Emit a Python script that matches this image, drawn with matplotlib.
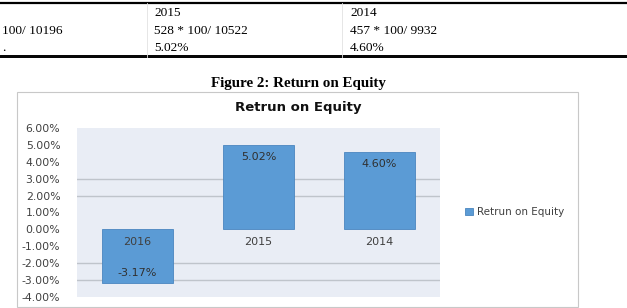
import matplotlib.pyplot as plt
from matplotlib.patches import Rectangle

# chart data
years = ['2016', '2015', '2014']
roe = [-3.17, 5.02, 4.60]
yticks = [6, 5, 4, 3, 2, 1, 0, -1, -2, -3, -4]
grid_at = [3, 2, -2, -3]   # only these gridlines are visible in the source

# table fragment above the figure
tab_rows = [['100/ 10196', '528 * 100/ 10522', '457 * 100/ 9932'],
            ['.', '5.02%', '4.60%']]
tab_head = ['', '2015', '2014']

W, H = 627, 308
fig = plt.figure(figsize=(W / 100, H / 100), dpi=100)
fig.patch.set_facecolor('white')


def fx(px):
    return px / W


def fy(py):
    return 1 - py / H


serif = 'Liberation Serif'

# table lines
fig.add_artist(plt.Line2D([0, 1], [fy(3), fy(3)], color='black', lw=1.6))
fig.add_artist(plt.Line2D([0, 1], [fy(54.5), fy(54.5)], color='black', lw=0.7))
fig.add_artist(plt.Line2D([0, 1], [fy(57), fy(57)], color='black', lw=1.4))
for vx in [147, 342]:
    fig.add_artist(plt.Line2D([fx(vx), fx(vx)], [fy(3), fy(57)], color='#e2e2e2', lw=0.6))

col_x = [2, 154, 350]
for cx, h in zip(col_x, tab_head):
    fig.text(fx(cx), fy(13), h, family=serif, fontsize=9.6, va='center', ha='left')
for ry, row in zip([31, 48], tab_rows):
    for cx, t in zip(col_x, row):
        fig.text(fx(cx), fy(ry), t, family=serif, fontsize=9.6, va='center', ha='left')

# caption
fig.text(fx(298), fy(84), 'Figure 2: Return on Equity', family=serif, fontsize=10.8,
         fontweight='bold', ha='center', va='center')

# chart frame
fig.add_artist(Rectangle((fx(17), fy(307)), fx(578 - 17), (307 - 92) / H,
                         transform=fig.transFigure, fill=False, edgecolor='#c8c8c8', lw=0.8))

fig.text(fx(298), fy(108), 'Retrun on Equity', fontsize=9.5, fontweight='bold',
         ha='center', va='center', color='#111111')

ax = fig.add_axes([fx(77), fy(297), fx(440 - 77), (297 - 128) / H])
ax.set_facecolor('#e9edf5')
x = range(len(years))
bars = ax.bar(x, roe, width=0.58, color='#5b9bd5', edgecolor='#4a86bf', lw=0.6,
              label='Retrun on Equity', zorder=3)
for g in grid_at:
    ax.axhline(g, color='#bfc4cb', lw=1.0, zorder=1)

ax.set_ylim(-4, 6)
ax.set_xlim(-0.5, 2.5)
ax.set_yticks(yticks)
ax.set_yticklabels(['%.2f%%' % v for v in yticks], fontsize=7.8, color='#404040')
ax.set_xticks([])
ax.tick_params(axis='y', length=0, pad=12)
for s in ax.spines.values():
    s.set_visible(False)

for i, (yr, v) in enumerate(zip(years, roe)):
    ax.annotate(yr, (i, 0), xytext=(0, -9), textcoords='offset points',
                ha='center', va='center', fontsize=8, color='#404040')
    if v > 0:
        ax.annotate('%.2f%%' % v, (i, v), xytext=(0, -9), textcoords='offset points',
                    ha='center', va='center', fontsize=8, color='#303030', zorder=4)
    else:
        ax.annotate('%.2f%%' % v, (i, v), xytext=(0, 7.5), textcoords='offset points',
                    ha='center', va='center', fontsize=8, color='#303030', zorder=4)

fig.legend(handles=[bars], labels=['Retrun on Equity'], loc='center left',
           bbox_to_anchor=(fx(456), fy(212)), frameon=False, fontsize=7.5,
           handlelength=0.7, handleheight=0.7, handletextpad=0.4, labelcolor='#404040')

fig.savefig('out.png', dpi=100)
